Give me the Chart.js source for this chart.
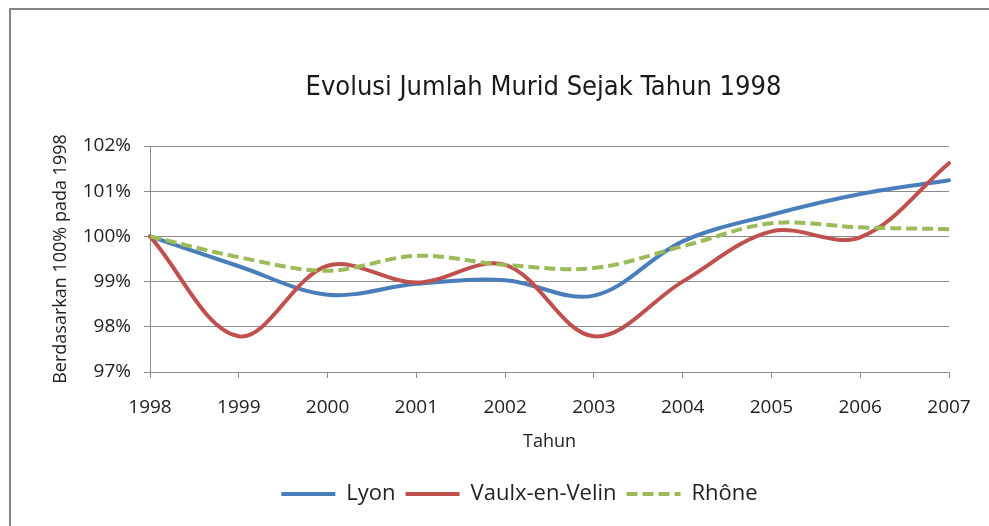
<!DOCTYPE html>
<html><head><meta charset="utf-8">
<script src="https://cdn.jsdelivr.net/npm/chart.js@4.4.0/dist/chart.umd.min.js"></script>
<style>html,body{margin:0;padding:0;background:#fff;overflow:hidden}</style>
</head><body>
<canvas id="c" width="989" height="526"></canvas>
<script>
const years = ['1998','1999','2000','2001','2002','2003','2004','2005','2006','2007'];
const lyon  = [100, 99.34, 98.71, 98.95, 99.03, 98.69, 99.89, 100.48, 100.94, 101.24];
const vaulx = [100, 97.79, 99.35, 98.98, 99.37, 97.79, 99.00, 100.11, 99.98, 101.62];
const rhone = [100, 99.54, 99.24, 99.57, 99.37, 99.30, 99.78, 100.29, 100.20, 100.16];
const yMin = 97, yMax = 102, yStep = 1;
const titleText = 'Evolusi Jumlah Murid Sejak Tahun 1998';
const yTitle = 'Berdasarkan 100% pada 1998';
const xTitle = 'Tahun';

const GRID = '#8c8c8c';
const TXT = '#222222';
const FONT = "'Open Sans', 'DejaVu Sans', sans-serif";

const framePlugin = {
  id: 'frame',
  afterLayout(chart) {
    if (chart.legend) { chart.legend.left += 25; chart.legend.right += 25; }
  },
  beforeDraw(chart) {
    const ctx = chart.ctx;
    ctx.save();
    ctx.fillStyle = '#fff';
    ctx.fillRect(0, 0, chart.width, chart.height);
    ctx.strokeStyle = '#868686';
    ctx.lineWidth = 2;
    ctx.beginPath();
    ctx.moveTo(10, chart.height);
    ctx.lineTo(10, 9);
    ctx.lineTo(chart.width, 9);
    ctx.stroke();
    ctx.restore();
  },
  afterDraw(chart) {
    const ctx = chart.ctx;
    ctx.save();
    ctx.fillStyle = '#1a1a1a';
    ctx.font = "27px 'DejaVu Sans Condensed', 'Liberation Sans Narrow', 'DejaVu Sans', sans-serif";
    ctx.textAlign = 'center';
    ctx.textBaseline = 'middle';
    const ca = chart.chartArea;
    ctx.fillText(titleText, (ca.left + ca.right) / 2 - 6, 88);
    ctx.restore();
  }
};

new Chart(document.getElementById('c'), {
  type: 'line',
  data: {
    labels: years,
    datasets: [
      { label: 'Lyon', data: lyon, borderColor: '#4a7ebb', backgroundColor: '#4a7ebb', borderWidth: 4, order: 3, borderCapStyle: 'round' },
      { label: 'Vaulx-en-Velin', data: vaulx, borderColor: '#c0504d', backgroundColor: '#c0504d', borderWidth: 4, order: 2, borderCapStyle: 'round' },
      { label: 'Rhône', data: rhone, borderColor: '#9bbb59', backgroundColor: '#9bbb59', borderWidth: 4, order: 1, borderDash: [11, 5] }
    ]
  },
  options: {
    responsive: false,
    animation: false,
    devicePixelRatio: 1,
    layout: { padding: { left: 40, right: 40, top: 146, bottom: 11 } },
    elements: { point: { radius: 0, hoverRadius: 0 }, line: { tension: 0.35, fill: false } },
    plugins: {
      tooltip: { enabled: false },
      title: { display: false },
      legend: {
        position: 'bottom',
        reverse: true,
        labels: {
          usePointStyle: true,
          pointStyle: 'line',
          pointStyleWidth: 54,
          padding: 10,
          color: TXT,
          font: { family: FONT, size: 22 },
          generateLabels(chart) {
            const items = Chart.defaults.plugins.legend.labels.generateLabels(chart);
            items.forEach(it => {
              const ds = chart.data.datasets[it.datasetIndex];
              it.lineDash = ds.borderDash || [];
              it.lineWidth = 4;
              it.strokeStyle = ds.borderColor;
              it.lineCap = 'butt';
            });
            return items;
          }
        }
      }
    },
    scales: {
      x: {
        type: 'category',
        offset: false,
        grid: { drawOnChartArea: false, drawTicks: true, tickLength: 6, color: GRID },
        border: { display: true, color: GRID, width: 1 },
        ticks: { color: TXT, font: { family: FONT, size: 19 }, padding: 18, maxRotation: 0, autoSkip: false },
        title: { display: true, text: xTitle, color: TXT, font: { family: FONT, size: 18 }, padding: { top: 0, bottom: 20 } },
        afterFit(scale) { scale.height = 101; }
      },
      y: {
        min: yMin, max: yMax,
        grid: { color: GRID, lineWidth: 1, drawTicks: true, tickLength: 6 },
        border: { display: true, color: GRID, width: 1 },
        ticks: { stepSize: yStep, color: TXT, font: { family: FONT, size: 19 }, padding: 13, callback: v => v + '%' },
        title: { display: true, text: yTitle, color: TXT, font: { family: FONT, size: 18 }, padding: { top: 10, bottom: 0 } },
        afterFit(scale) { scale.width = 110; }
      }
    }
  },
  plugins: [framePlugin]
});
</script>
</body></html>
